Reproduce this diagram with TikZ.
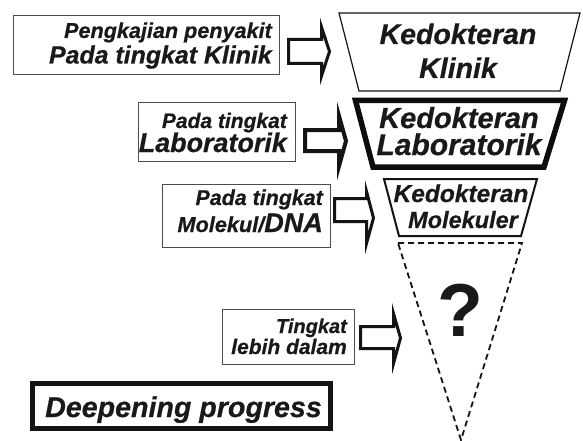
\documentclass[tikz,border=0pt]{standalone}
\usepackage{fontspec}
\setmainfont{Liberation Sans}[BoldItalicFeatures={FakeBold=0.6}]
\newcommand\fsz[1]{\fontsize{#1}{#1}\selectfont}
\tikzset{
  box/.style={draw=black!70, line width=0.9pt, fill=white, inner sep=0pt},
  lbl/.style={inner sep=0pt, font=\bfseries\itshape, text=black!90},
  blk/.style={draw=black!92, line width=3pt, fill=white, line join=miter, miter limit=12},
}
% [opts]{x0}{x1}{tip x}{shaft top}{shaft bottom}{head top}{head bottom}{tip y}
\newcommand\blockarrow[9][]{%
  \draw[blk,#1] (#2,#5) -- (#3,#5) -- (#3,#7) -- (#4,#9) -- (#3,#8) -- (#3,#6) -- (#2,#6) -- cycle;}
\begin{document}
\begin{tikzpicture}[x=1pt,y=-1pt]
\useasboundingbox (0,0) rectangle (583,441);
\fill[white] (0,0) rectangle (583,441);

% left boxes
\node[box, minimum width=266pt, minimum height=59pt] (b1) at (146,44.5) {};
\node[box, minimum width=157pt, minimum height=59pt] (b2) at (216.5,131.5) {};
\node[box, minimum width=168pt, minimum height=63pt] (b3) at (246,215.5) {};
\node[box, minimum width=132pt, minimum height=55pt] (b4) at (288,336.5) {};

\node[lbl, anchor=base east, font=\bfseries\itshape\fsz{21.6}] (t1a) at (272,38) {Pengkajian penyakit};
\node[lbl, anchor=base east, font=\bfseries\itshape\fsz{24.9}] (t1b) at (272,63.5) {Pada tingkat Klinik};
\node[lbl, anchor=base east, font=\bfseries\itshape\fsz{21}] (t2a) at (287,128) {Pada tingkat};
\node[lbl, anchor=base east, font=\bfseries\itshape\fsz{26.9}] (t2b) at (287,152) {Laboratorik};
\node[lbl, anchor=base east, font=\bfseries\itshape\fsz{21.4}] (t3a) at (323,205) {Pada tingkat};
\node[lbl, anchor=base east] (t3b) at (323,232) {{\fsz{21.7}Molekul/}{\fsz{27}DNA}};
\node[lbl, anchor=base east, font=\bfseries\itshape\fsz{20}] (t4a) at (347,333) {Tingkat};
\node[lbl, anchor=base east, font=\bfseries\itshape\fsz{21}] (t4b) at (347,354) {lebih dalam};

% deepening box
\node[draw=black!92, line width=5pt, fill=white, minimum width=298pt, minimum height=45pt, inner sep=0pt] (dp) at (181.5,406) {};
\node[lbl, anchor=base, font=\bfseries\itshape\fsz{28.6}] (dpt) at (183.5,417) {Deepening progress};

% block arrows
\blockarrow{288.5}{321.5}{329.5}{39.5}{63.5}{27}{76}{51.5}
\blockarrow[line width=4pt]{305}{339}{346}{130}{151}{116}{166}{141}
\blockarrow{334.5}{366.5}{373.5}{198.5}{221.5}{191.5}{243.5}{218}
\blockarrow{360.5}{393.5}{400.5}{326.5}{348.5}{313.5}{363.5}{338}

% funnel
\draw[black!92, line width=1.2pt, line join=miter] (339,13) -- (580,13) -- (560,91) -- (359,91) -- cycle;
\draw[black!95, line width=5.5pt, line join=miter] (355.5,100.5) -- (564.5,100.5) -- (544,167) -- (373,167) -- cycle;
\draw[black!92, line width=2pt, line join=miter] (384,179) -- (537,179) -- (521,236) -- (399,236) -- cycle;
\draw[black!92, line width=1.8pt, dash pattern=on 6pt off 4pt] (398,243) -- (522,243) -- (461,440) -- cycle;

\node[lbl, anchor=base, font=\bfseries\itshape\fsz{28.5}] (k1a) at (458,44) {Kedokteran};
\node[lbl, anchor=base, font=\bfseries\itshape\fsz{28.5}] (k1b) at (458,78) {Klinik};
\node[lbl, anchor=base, font=\bfseries\itshape\fsz{29}] (k2a) at (459,128) {Kedokteran};
\node[lbl, anchor=base, font=\bfseries\itshape\fsz{30}] (k2b) at (459,155) {Laboratorik};
\node[lbl, anchor=base, font=\bfseries\itshape\fsz{24.5}] (k3a) at (461,202) {Kedokteran};
\node[lbl, anchor=base, font=\bfseries\itshape\fsz{23.5}] (k3b) at (463,228) {Molekuler};
\node[inner sep=0pt, anchor=base, font=\bfseries\fsz{75}, text=black!90] (q) at (460,336) {?};
\end{tikzpicture}
\end{document}
